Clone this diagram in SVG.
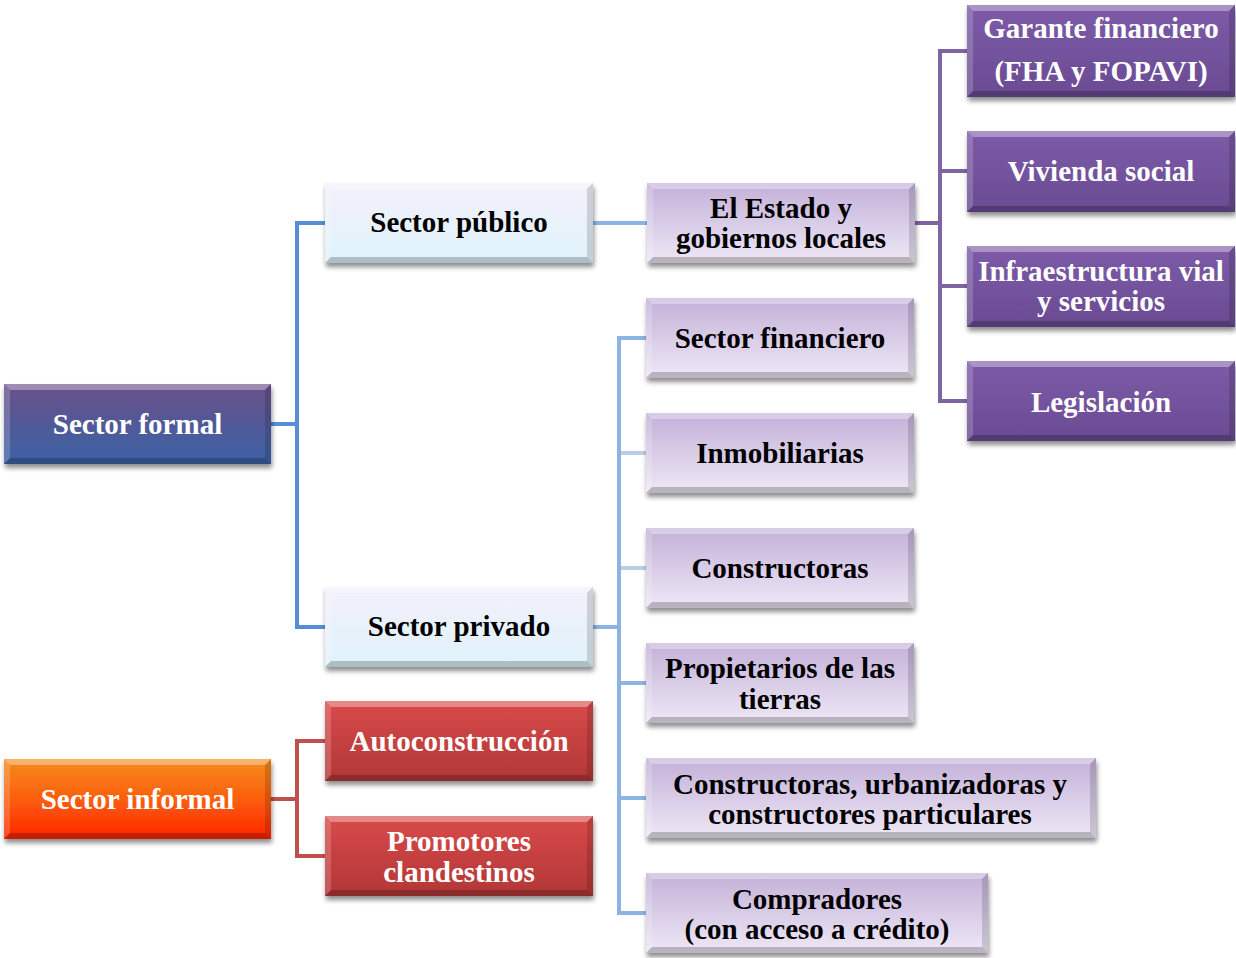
<svg xmlns="http://www.w3.org/2000/svg" width="1236" height="958" viewBox="0 0 1236 958">
<defs>
<filter id="sh" x="-10%" y="-20%" width="120%" height="150%">
<feGaussianBlur in="SourceAlpha" stdDeviation="2.5"/>
<feOffset dx="1" dy="4" result="b"/>
<feComponentTransfer><feFuncA type="linear" slope="0.45"/></feComponentTransfer>
<feMerge><feMergeNode/><feMergeNode in="SourceGraphic"/></feMerge>
</filter>
<linearGradient id="gFormal" x1="0" y1="0" x2="0" y2="1"><stop offset="0" stop-color="#6b4f8a"/><stop offset="1" stop-color="#3a63a6"/></linearGradient>
<linearGradient id="gLight" x1="0" y1="0" x2="0" y2="1"><stop offset="0" stop-color="#f3f0fb"/><stop offset="1" stop-color="#dff3fb"/></linearGradient>
<linearGradient id="gLav" x1="0" y1="0" x2="0" y2="1"><stop offset="0" stop-color="#c3b0d8"/><stop offset="1" stop-color="#eee8f6"/></linearGradient>
<linearGradient id="gPur" x1="0" y1="0" x2="0" y2="1"><stop offset="0" stop-color="#7d5ba8"/><stop offset="1" stop-color="#6a4b93"/></linearGradient>
<linearGradient id="gOr" x1="0" y1="0" x2="0" y2="1"><stop offset="0" stop-color="#f58b1f"/><stop offset="0.5" stop-color="#fb5f0c"/><stop offset="1" stop-color="#ff2400"/></linearGradient>
<linearGradient id="gRed" x1="0" y1="0" x2="0" y2="1"><stop offset="0" stop-color="#d94a4a"/><stop offset="1" stop-color="#b23737"/></linearGradient>
</defs>
<style>
.t{font-family:"Liberation Serif","Times New Roman",serif;font-weight:bold;font-size:29px;text-anchor:middle}
.w{fill:#ffffff}
.k{fill:#000000}
.hl{fill:#ffffff;fill-opacity:0.35}
.hs{fill:#ffffff;fill-opacity:0.18}
.dk{fill:#000000;fill-opacity:0.22}
.ds{fill:#000000;fill-opacity:0.14}
.c{fill:none;stroke-width:4;stroke-linejoin:miter}
</style>

<g id="connectors">
<path class="c" stroke="#558ed5" d="M271,424 H297 M325,223 H297 V627 H325"/>
<path class="c" stroke="#8db3e2" d="M593,223 H647"/>
<path class="c" stroke="#8064a2" d="M915,223 H940 M967,51 H940 V401 H967 M940,171 H967 M940,286 H967"/>
<path class="c" stroke="#8db3e2" d="M593,627 H619 M646,338 H619 V913 H646 M619,683 H646 M619,798 H646"/>
<path class="c" stroke="#b9cde5" d="M621,453 H646 M621,568 H646"/>
<path class="c" stroke="#c0504d" d="M271,799 H297 M325,741 H297 V856 H325"/>
</g>

<g id="sector-formal" transform="translate(4,384)">
<rect width="267" height="80" fill="url(#gFormal)" filter="url(#sh)"/>
<path class="hl" d="M0,0 H267 L261,6 H6 Z"/><path class="hs" d="M0,0 L6,6 V74 L0,80 Z"/><path class="dk" d="M0,80 L6,74 H261 L267,80 Z"/><path class="ds" d="M267,0 V80 L261,74 V6 Z"/>
<text class="t w" x="133.5" y="50">Sector formal</text>
</g>

<g id="sector-publico" transform="translate(325,183)">
<rect width="268" height="80" fill="url(#gLight)" filter="url(#sh)"/>
<path class="hl" d="M0,0 H268 L262,6 H6 Z"/><path class="hs" d="M0,0 L6,6 V74 L0,80 Z"/><path class="dk" d="M0,80 L6,74 H262 L268,80 Z"/><path class="ds" d="M268,0 V80 L262,74 V6 Z"/>
<text class="t k" x="134" y="49">Sector público</text>
</g>

<g id="estado" transform="translate(647,183)">
<rect width="268" height="80" fill="url(#gLav)" filter="url(#sh)"/>
<path class="hl" d="M0,0 H268 L262,6 H6 Z"/><path class="hs" d="M0,0 L6,6 V74 L0,80 Z"/><path class="dk" d="M0,80 L6,74 H262 L268,80 Z"/><path class="ds" d="M268,0 V80 L262,74 V6 Z"/>
<text class="t k" x="134" y="35">El Estado y</text>
<text class="t k" x="134" y="65">gobiernos locales</text>
</g>

<g id="garante" transform="translate(967,5)">
<rect width="268" height="92" fill="url(#gPur)" filter="url(#sh)"/>
<path class="hl" d="M0,0 H268 L262,6 H6 Z"/><path class="hs" d="M0,0 L6,6 V86 L0,92 Z"/><path class="dk" d="M0,92 L6,86 H262 L268,92 Z"/><path class="ds" d="M268,0 V92 L262,86 V6 Z"/>
<text class="t w" x="134" y="33">Garante financiero</text>
<text class="t w" x="134" y="76">(FHA y FOPAVI)</text>
</g>

<g id="vivienda" transform="translate(967,131)">
<rect width="268" height="81" fill="url(#gPur)" filter="url(#sh)"/>
<path class="hl" d="M0,0 H268 L262,6 H6 Z"/><path class="hs" d="M0,0 L6,6 V75 L0,81 Z"/><path class="dk" d="M0,81 L6,75 H262 L268,81 Z"/><path class="ds" d="M268,0 V81 L262,75 V6 Z"/>
<text class="t w" x="134" y="50">Vivienda social</text>
</g>

<g id="infraestructura" transform="translate(967,246)">
<rect width="268" height="81" fill="url(#gPur)" filter="url(#sh)"/>
<path class="hl" d="M0,0 H268 L262,6 H6 Z"/><path class="hs" d="M0,0 L6,6 V75 L0,81 Z"/><path class="dk" d="M0,81 L6,75 H262 L268,81 Z"/><path class="ds" d="M268,0 V81 L262,75 V6 Z"/>
<text class="t w" x="134" y="35">Infraestructura vial</text>
<text class="t w" x="134" y="65">y servicios</text>
</g>

<g id="legislacion" transform="translate(967,361)">
<rect width="268" height="80" fill="url(#gPur)" filter="url(#sh)"/>
<path class="hl" d="M0,0 H268 L262,6 H6 Z"/><path class="hs" d="M0,0 L6,6 V74 L0,80 Z"/><path class="dk" d="M0,80 L6,74 H262 L268,80 Z"/><path class="ds" d="M268,0 V80 L262,74 V6 Z"/>
<text class="t w" x="134" y="51">Legislación</text>
</g>

<g id="sector-financiero" transform="translate(646,298)">
<rect width="268" height="80" fill="url(#gLav)" filter="url(#sh)"/>
<path class="hl" d="M0,0 H268 L262,6 H6 Z"/><path class="hs" d="M0,0 L6,6 V74 L0,80 Z"/><path class="dk" d="M0,80 L6,74 H262 L268,80 Z"/><path class="ds" d="M268,0 V80 L262,74 V6 Z"/>
<text class="t k" x="134" y="50">Sector financiero</text>
</g>

<g id="inmobiliarias" transform="translate(646,413)">
<rect width="268" height="80" fill="url(#gLav)" filter="url(#sh)"/>
<path class="hl" d="M0,0 H268 L262,6 H6 Z"/><path class="hs" d="M0,0 L6,6 V74 L0,80 Z"/><path class="dk" d="M0,80 L6,74 H262 L268,80 Z"/><path class="ds" d="M268,0 V80 L262,74 V6 Z"/>
<text class="t k" x="134" y="50">Inmobiliarias</text>
</g>

<g id="constructoras" transform="translate(646,528)">
<rect width="268" height="80" fill="url(#gLav)" filter="url(#sh)"/>
<path class="hl" d="M0,0 H268 L262,6 H6 Z"/><path class="hs" d="M0,0 L6,6 V74 L0,80 Z"/><path class="dk" d="M0,80 L6,74 H262 L268,80 Z"/><path class="ds" d="M268,0 V80 L262,74 V6 Z"/>
<text class="t k" x="134" y="50">Constructoras</text>
</g>

<g id="propietarios" transform="translate(646,643)">
<rect width="268" height="80" fill="url(#gLav)" filter="url(#sh)"/>
<path class="hl" d="M0,0 H268 L262,6 H6 Z"/><path class="hs" d="M0,0 L6,6 V74 L0,80 Z"/><path class="dk" d="M0,80 L6,74 H262 L268,80 Z"/><path class="ds" d="M268,0 V80 L262,74 V6 Z"/>
<text class="t k" x="134" y="35">Propietarios de las</text>
<text class="t k" x="134" y="66">tierras</text>
</g>

<g id="urbanizadoras" transform="translate(646,758)">
<rect width="450" height="80" fill="url(#gLav)" filter="url(#sh)"/>
<path class="hl" d="M0,0 H450 L444,6 H6 Z"/><path class="hs" d="M0,0 L6,6 V74 L0,80 Z"/><path class="dk" d="M0,80 L6,74 H444 L450,80 Z"/><path class="ds" d="M450,0 V80 L444,74 V6 Z"/>
<text class="t k" x="224" y="36">Constructoras, urbanizadoras y</text>
<text class="t k" x="224" y="66">constructores particulares</text>
</g>

<g id="compradores" transform="translate(646,873)">
<rect width="342" height="80" fill="url(#gLav)" filter="url(#sh)"/>
<path class="hl" d="M0,0 H342 L336,6 H6 Z"/><path class="hs" d="M0,0 L6,6 V74 L0,80 Z"/><path class="dk" d="M0,80 L6,74 H336 L342,80 Z"/><path class="ds" d="M342,0 V80 L336,74 V6 Z"/>
<text class="t k" x="171" y="36">Compradores</text>
<text class="t k" x="171" y="66">(con acceso a crédito)</text>
</g>

<g id="sector-privado" transform="translate(325,587)">
<rect width="268" height="80" fill="url(#gLight)" filter="url(#sh)"/>
<path class="hl" d="M0,0 H268 L262,6 H6 Z"/><path class="hs" d="M0,0 L6,6 V74 L0,80 Z"/><path class="dk" d="M0,80 L6,74 H262 L268,80 Z"/><path class="ds" d="M268,0 V80 L262,74 V6 Z"/>
<text class="t k" x="134" y="49">Sector privado</text>
</g>

<g id="autoconstruccion" transform="translate(325,701)">
<rect width="268" height="80" fill="url(#gRed)" filter="url(#sh)"/>
<path class="hl" d="M0,0 H268 L262,6 H6 Z"/><path class="hs" d="M0,0 L6,6 V74 L0,80 Z"/><path class="dk" d="M0,80 L6,74 H262 L268,80 Z"/><path class="ds" d="M268,0 V80 L262,74 V6 Z"/>
<text class="t w" x="134" y="50">Autoconstrucción</text>
</g>

<g id="promotores" transform="translate(325,816)">
<rect width="268" height="80" fill="url(#gRed)" filter="url(#sh)"/>
<path class="hl" d="M0,0 H268 L262,6 H6 Z"/><path class="hs" d="M0,0 L6,6 V74 L0,80 Z"/><path class="dk" d="M0,80 L6,74 H262 L268,80 Z"/><path class="ds" d="M268,0 V80 L262,74 V6 Z"/>
<text class="t w" x="134" y="35">Promotores</text>
<text class="t w" x="134" y="66">clandestinos</text>
</g>

<g id="sector-informal" transform="translate(4,759)">
<rect width="267" height="80" fill="url(#gOr)" filter="url(#sh)"/>
<path class="hl" d="M0,0 H267 L261,6 H6 Z"/><path class="hs" d="M0,0 L6,6 V74 L0,80 Z"/><path class="dk" d="M0,80 L6,74 H261 L267,80 Z"/><path class="ds" d="M267,0 V80 L261,74 V6 Z"/>
<text class="t w" x="133.5" y="50">Sector informal</text>
</g>
</svg>
